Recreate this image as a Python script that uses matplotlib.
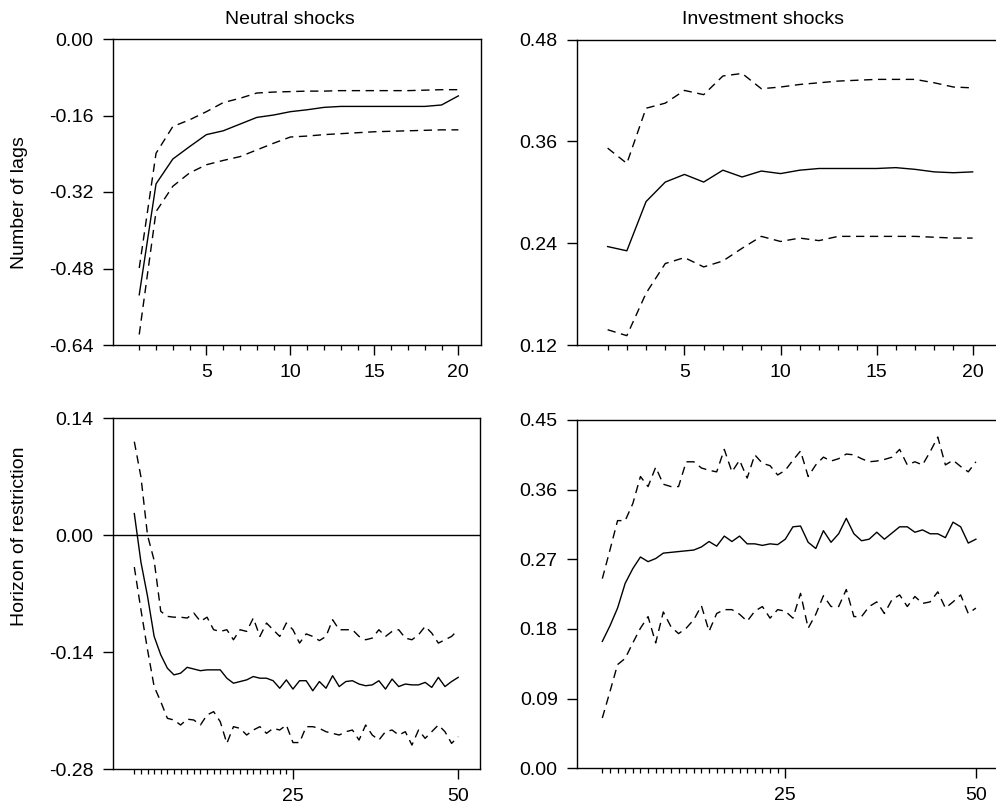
import numpy as np
import matplotlib
matplotlib.use("Agg")
import matplotlib.pyplot as plt
from matplotlib.ticker import FixedLocator

plt.rcParams['font.family'] = ['Liberation Sans', 'DejaVu Sans']
plt.rcParams['font.size'] = 14

#### Data ####

lags = np.arange(1, 21)
horizon = np.arange(1, 51)

# Neutral shocks, number of lags
neu_lag_mid = [-0.535, -0.303, -0.251, -0.225, -0.200, -0.192, -0.178, -0.164, -0.159, -0.152,
               -0.148, -0.143, -0.141, -0.141, -0.141, -0.141, -0.141, -0.141, -0.138, -0.119]
neu_lag_hi = [-0.479, -0.239, -0.183, -0.169, -0.152, -0.133, -0.124, -0.113, -0.111, -0.110,
              -0.109, -0.109, -0.108, -0.108, -0.108, -0.108, -0.108, -0.107, -0.106, -0.106]
neu_lag_lo = [-0.618, -0.361, -0.308, -0.280, -0.263, -0.254, -0.246, -0.232, -0.218, -0.205,
              -0.203, -0.200, -0.198, -0.196, -0.194, -0.193, -0.192, -0.191, -0.190, -0.190]

# Investment shocks, number of lags
inv_lag_mid = [0.236, 0.231, 0.289, 0.312, 0.321, 0.312, 0.326, 0.318, 0.325, 0.322,
               0.326, 0.328, 0.328, 0.328, 0.328, 0.329, 0.327, 0.324, 0.323, 0.324]
inv_lag_hi = [0.352, 0.334, 0.399, 0.405, 0.420, 0.415, 0.437, 0.440, 0.422, 0.424,
              0.427, 0.429, 0.431, 0.432, 0.433, 0.433, 0.433, 0.429, 0.424, 0.423]
inv_lag_lo = [0.138, 0.131, 0.181, 0.216, 0.223, 0.212, 0.219, 0.234, 0.248, 0.242,
              0.246, 0.243, 0.248, 0.248, 0.248, 0.248, 0.248, 0.247, 0.246, 0.246]

# Neutral shocks, horizon of restriction
neu_hor_mid = [0.026, -0.032, -0.073, -0.121, -0.143, -0.159, -0.167, -0.165, -0.158, -0.160,
               -0.162, -0.161, -0.161, -0.161, -0.171, -0.177, -0.175, -0.173, -0.169, -0.171,
               -0.171, -0.174, -0.183, -0.173, -0.184, -0.174, -0.174, -0.186, -0.175, -0.183,
               -0.168, -0.181, -0.175, -0.174, -0.178, -0.180, -0.179, -0.174, -0.184, -0.172,
               -0.181, -0.178, -0.179, -0.179, -0.176, -0.182, -0.170, -0.181, -0.175, -0.170]
neu_hor_hi = [0.112, 0.070, 0.000, -0.030, -0.091, -0.097, -0.098, -0.098, -0.099, -0.093,
              -0.103, -0.098, -0.113, -0.115, -0.113, -0.125, -0.113, -0.115, -0.099, -0.121,
              -0.105, -0.113, -0.121, -0.105, -0.113, -0.129, -0.118, -0.121, -0.126, -0.121,
              -0.101, -0.113, -0.113, -0.113, -0.121, -0.125, -0.123, -0.113, -0.121, -0.115,
              -0.113, -0.123, -0.125, -0.119, -0.109, -0.117, -0.129, -0.125, -0.121, -0.113]
neu_hor_lo = [-0.038, -0.089, -0.137, -0.181, -0.199, -0.219, -0.221, -0.227, -0.220, -0.221,
              -0.227, -0.215, -0.211, -0.223, -0.249, -0.229, -0.231, -0.239, -0.233, -0.229,
              -0.237, -0.231, -0.233, -0.227, -0.248, -0.248, -0.229, -0.229, -0.231, -0.235,
              -0.237, -0.239, -0.235, -0.233, -0.245, -0.227, -0.239, -0.245, -0.235, -0.233,
              -0.239, -0.235, -0.251, -0.233, -0.243, -0.235, -0.227, -0.235, -0.249, -0.241]

# Investment shocks, horizon of restriction
inv_hor_mid = [0.164, 0.184, 0.207, 0.239, 0.258, 0.273, 0.267, 0.271, 0.278, 0.279,
               0.280, 0.281, 0.282, 0.286, 0.293, 0.287, 0.300, 0.293, 0.300, 0.290,
               0.290, 0.288, 0.290, 0.289, 0.296, 0.312, 0.313, 0.292, 0.284, 0.307,
               0.292, 0.303, 0.323, 0.303, 0.294, 0.296, 0.305, 0.296, 0.304, 0.312,
               0.312, 0.305, 0.308, 0.303, 0.303, 0.298, 0.318, 0.312, 0.291, 0.296]
inv_hor_hi = [0.245, 0.282, 0.320, 0.320, 0.342, 0.377, 0.364, 0.389, 0.367, 0.364,
              0.364, 0.396, 0.396, 0.388, 0.385, 0.383, 0.412, 0.383, 0.398, 0.375,
              0.405, 0.394, 0.391, 0.379, 0.385, 0.398, 0.410, 0.377, 0.392, 0.402,
              0.397, 0.400, 0.406, 0.405, 0.400, 0.396, 0.397, 0.399, 0.402, 0.412,
              0.392, 0.396, 0.392, 0.409, 0.428, 0.392, 0.398, 0.390, 0.383, 0.396]
inv_hor_lo = [0.065, 0.099, 0.134, 0.142, 0.162, 0.181, 0.196, 0.162, 0.202, 0.183,
              0.174, 0.181, 0.192, 0.210, 0.177, 0.200, 0.205, 0.205, 0.199, 0.190,
              0.203, 0.209, 0.194, 0.205, 0.203, 0.194, 0.226, 0.181, 0.199, 0.223,
              0.209, 0.209, 0.231, 0.196, 0.196, 0.209, 0.215, 0.200, 0.218, 0.224,
              0.209, 0.222, 0.213, 0.215, 0.228, 0.207, 0.215, 0.224, 0.200, 0.207]

W, H = 996, 808
fig = plt.figure(figsize=(W / 100, H / 100), dpi=100)


def add_axes(left, top, right, bottom):
    # pixel box -> figure fraction
    return fig.add_axes([left / W, 1 - bottom / H, (right - left) / W, (bottom - top) / H])


def style(ax, xlim, ylim, yticks, xmajor, xminor):
    ax.set_xlim(*xlim)
    ax.set_ylim(*ylim)
    ax.set_yticks(yticks)
    ax.set_yticklabels(['{:.2f}'.format(v) for v in yticks])
    ax.xaxis.set_major_locator(FixedLocator(xmajor))
    ax.xaxis.set_minor_locator(FixedLocator(xminor))
    ax.tick_params(axis='y', which='major', direction='out', length=7.2, width=1, pad=6.5)
    ax.tick_params(axis='x', which='major', direction='out', length=7, width=1, pad=6.5)
    ax.tick_params(axis='x', which='minor', direction='out', length=3.8, width=0.9)
    for s in ax.spines.values():
        s.set_linewidth(1)


def draw(ax, x, mid, hi, lo):
    ax.plot(x, mid, color='black', lw=1.0)
    ax.plot(x, hi, color='black', lw=1.0, ls=(0, (6, 4)))
    ax.plot(x, lo, color='black', lw=1.0, ls=(0, (6, 4)))


#### Top left ####
ax1 = add_axes(112.7, 39, 480.7, 345)
draw(ax1, lags, neu_lag_mid, neu_lag_hi, neu_lag_lo)
style(ax1, (-0.58, 21.33), (-0.64, 0.0), [-0.64, -0.48, -0.32, -0.16, 0.0],
      [5, 10, 15, 20], [v for v in range(1, 20) if v % 5])

#### Top right ####
ax2 = add_axes(576.7, 39.5, 998, 345)
draw(ax2, lags, inv_lag_mid, inv_lag_hi, inv_lag_lo)
style(ax2, (-0.61, 21.32), (0.12, 0.48), [0.12, 0.24, 0.36, 0.48],
      [5, 10, 15, 20], [v for v in range(1, 20) if v % 5])

#### Bottom left ####
ax3 = add_axes(112.7, 418.3, 480, 769.3)
ax3.axhline(0, color='black', lw=1)
draw(ax3, horizon, neu_hor_mid, neu_hor_hi, neu_hor_lo)
style(ax3, (-2.27, 53.3), (-0.28, 0.14), [-0.28, -0.14, 0.0, 0.14],
      [25, 50], list(range(1, 25)))

#### Bottom right ####
ax4 = add_axes(576.7, 420, 998, 768.3)
draw(ax4, horizon, inv_hor_mid, inv_hor_hi, inv_hor_lo)
style(ax4, (-2.36, 52.9), (0.0, 0.45), [0.0, 0.09, 0.18, 0.27, 0.36, 0.45],
      [25, 50], list(range(1, 25)))

#### Titles and labels ####
fig.text(290 / W, 1 - 24 / H, 'Neutral shocks', ha='center', va='baseline')
fig.text(763 / W, 1 - 24 / H, 'Investment shocks', ha='center', va='baseline')
fig.text(19 / W, 1 - 203 / H, 'Number of lags', rotation=90, ha='center', va='center')
fig.text(19 / W, 1 - 536 / H, 'Horizon of restriction', rotation=90, ha='center', va='center')

fig.savefig('out.png', dpi=100)
